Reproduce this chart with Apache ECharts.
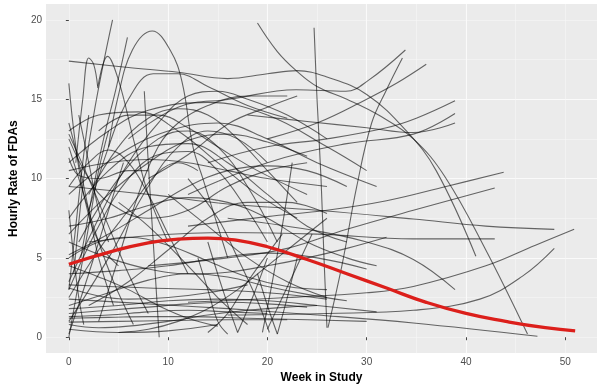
<!DOCTYPE html>
<html>
<head>
<meta charset="utf-8">
<script src="https://cdn.jsdelivr.net/npm/echarts@6/dist/echarts.min.js"></script>
<style>
  html, body { margin: 0; padding: 0; background: #fff; }
  #chart { width: 597px; height: 389px; }
</style>
</head>
<body>
<div id="chart"></div>
<script>
// week ticks / rate ticks
var weekTicks = [0, 10, 20, 30, 40, 50];
var rateTicks = [0, 5, 10, 15, 20];

// population fit (red curve)
var fitWeeks = [0, 4, 8, 11, 14, 17, 20, 24, 28, 32, 36, 40, 44, 48, 51];
var fitRate = [4.6, 5.35, 5.95, 6.18, 6.25, 6.1, 5.7, 4.9, 4.0, 3.1, 2.2, 1.5, 1.0, 0.6, 0.4];

// individual subject curves, [week, hourly rate]
var subjects = [
  [[0.5, 4], [1.5, 10], [2.5, 14], [3.4, 17], [4.4, 20]],
  [[1.2, 5], [2.5, 9.5], [3.5, 12.5], [4.8, 15.8], [5.9, 18.9]],
  [[0, 16], [0.6, 12.5], [1.5, 9], [3, 6], [5, 4.5]],
  [[0.7, 11], [1.4, 15], [2, 17.6], [2.5, 17.2], [2.9, 15.8]],
  [[2.9, 15.7], [3.9, 17.7], [5, 16.2], [6.5, 12.5], [8, 9], [10, 6]],
  [[0, 17.4], [6, 17], [11, 16.7], [16, 16.3], [20, 16.6], [23, 16.8], [26, 16.4], [30, 15.3], [34, 13], [37, 10.5], [41, 5.1]],
  [[4, 12], [4.9, 15], [6.4, 18.1], [8.4, 19.3], [10.2, 18.1], [11.4, 16.1], [12.5, 12], [13.5, 10], [15, 7], [16, 5]],
  [[2, 8], [4, 12], [6, 15], [8.5, 16.6], [11, 16.6], [14, 15.8], [18, 14.6], [22, 13.8]],
  [[7.6, 15.5], [8, 11], [8.4, 7], [8.8, 3], [9.1, 0]],
  [[19, 19.8], [21, 18], [22.9, 16.8], [25, 15.8], [28, 15], [31.2, 14], [34.7, 12.5], [37.9, 10.1], [42, 5.5], [46.2, 0.2]],
  [[6, 12.5], [11, 14.5], [16.2, 15], [22.9, 15.6], [27.9, 15.5], [30.2, 16.2], [33.9, 18.1]],
  [[26.1, 0.6], [27.5, 4.5], [29, 9.5], [30.5, 13.5], [32, 15.6], [33.6, 17.6]],
  [[20, 12.5], [25, 13.5], [30, 15], [33, 16], [36, 17.2]],
  [[8, 10], [12, 11.5], [16.2, 13.5], [20, 14.5], [23, 15.2]],
  [[24.7, 19.5], [25, 15], [25.4, 10], [25.7, 5], [26, 0.6]],
  [[14, 11], [20, 12], [26, 12.5], [32, 13.2], [35, 13.8], [38.9, 14.9]],
  [[12, 9], [20, 11], [28, 12.2], [34.7, 12.8], [38.9, 14.1]],
  [[18, 14], [24, 13.6], [30, 13.2], [34.7, 12.9], [38.9, 13.5]],
  [[0, 11], [4, 13], [8, 14.3], [14, 14.8], [20, 14], [26, 12], [30, 10.5]],
  [[0, 9], [5, 11.5], [10, 13], [15, 13.5], [20, 12.5], [25, 11], [31, 9.5]],
  [[0, 13], [3, 14], [7, 14.2], [11, 13], [15, 11], [19, 9], [23, 7.5]],
  [[1, 6], [5, 10], [9, 12.5], [12, 13], [15, 12], [18, 9.5], [21, 6]],
  [[0, 7.5], [4, 10.5], [8, 12], [12, 12.2], [16, 11], [20, 9], [24, 7], [28, 6]],
  [[0, 12.5], [2, 10], [4, 8.5], [8, 7.5], [12, 8], [16, 9.5], [20, 10.5], [24, 11]],
  [[0, 3], [3, 7], [6, 10], [9, 11.5], [12, 11.7], [15, 10.5], [18, 8], [20, 6]],
  [[0, 10.5], [4, 11], [8, 11.2], [12, 11], [16, 10.5], [20, 10], [26, 9.5]],
  [[0, 1], [4, 5], [8, 9.5], [11, 12], [14, 13], [17, 12.5], [20, 11]],
  [[0, 2.5], [3, 5.5], [6, 8], [9, 10.4], [11, 11], [13, 10.5]],
  [[0, 9.5], [2, 11], [4, 11.8], [6, 11], [8, 9], [10, 6.5], [12, 4]],
  [[0, 12.8], [2, 10], [4, 7], [6, 4], [8, 1.5]],
  [[0, 13.5], [1, 11], [2, 8], [3, 5], [4.5, 2]],
  [[0, 12], [1.5, 9], [3, 6], [4.5, 3.5], [6.5, 0.8]],
  [[1, 14], [2, 11], [3, 8], [4, 6]],
  [[0, 0.2], [2, 4], [4, 8], [5.5, 11]],
  [[0, 3.5], [3, 7.5], [6, 11], [9, 13.5], [12, 15.2], [15, 15.5], [18, 15], [22, 14], [26, 12.5]],
  [[3, 1], [5, 5], [7, 9], [9, 12], [11, 13.5], [14, 14.6], [18, 15.2], [22, 15.2]],
  [[0, 5.2], [4, 6.5], [8, 8], [12, 9.5], [16, 10.5], [20, 10.8], [24, 10.5], [28, 9.5]],
  [[0, 9.5], [8, 9], [16, 8.4], [25, 8], [34.7, 7.45], [42, 7], [48.9, 6.8]],
  [[2, 6], [8, 6.4], [16, 6.6], [25, 6.5], [34.7, 6.2], [42.9, 6.2]],
  [[8, 4.5], [16, 5], [22, 5.6], [28, 6.8], [34.7, 8], [42.9, 9.4]],
  [[12, 7], [20, 7.6], [26, 8], [32, 8.6], [38, 9.5], [43.8, 10.4]],
  [[12, 2.2], [22, 2.5], [30, 2.8], [34.7, 3.2], [42, 4.5], [47, 5.8], [50.9, 6.8]],
  [[16, 1.4], [26, 1.5], [34.7, 1.7], [41.4, 2.4], [45.7, 3.85], [48.9, 5.6]],
  [[16, 7.5], [24, 6.8], [30, 6], [34.7, 4.9], [38.9, 3]],
  [[0, 2.4], [8, 2.1], [16, 1.8], [25, 1.4], [34.7, 0.9], [47.2, 0.06]],
  [[0, 7], [4, 7.5], [8, 8.3], [12, 8.8], [16, 8.5], [20, 7.5], [24, 6], [28, 5], [31, 4.5]],
  [[0, 4], [5, 4.2], [10, 4.5], [15, 5], [20, 5.3], [25, 5], [30, 4.3]],
  [[0, 6], [4, 5], [8, 4.3], [12, 4], [16, 4.1], [20, 4.5], [24, 5], [28, 5.6], [32, 6.3]],
  [[2, 2], [6, 3.5], [10, 5.5], [14, 7.5], [18, 8.5], [22, 8.5], [26, 7.8]],
  [[10, 9], [14, 7], [18, 5], [22, 3.5], [26, 2.5]],
  [[5, 8.5], [8, 7], [12, 4.5], [15, 2.5], [18, 0.8]],
  [[12, 10], [15, 7.5], [17, 5], [19, 2.3], [20.2, 0.3]],
  [[20, 0.5], [21.5, 2.5], [23, 4.5], [24.5, 6.5]],
  [[14, 0.3], [16, 1.5], [18, 3.5], [21.5, 6.5]],
  [[0, 3.3], [4, 3.2], [8, 3.1], [14, 3], [20, 2.8], [26, 2.4]],
  [[0, 1.2], [4, 1.25], [8, 1.3], [12, 1.3], [18, 1.2], [24, 1.1], [30, 1]],
  [[0, 0.95], [5, 1.0], [10, 1.05], [16, 1.1], [22, 1.1]],
  [[0, 1.5], [4, 1.7], [8, 1.9], [12, 2.1], [16, 2.2], [20, 2.1], [24, 1.9]],
  [[0, 1.8], [5, 2], [10, 2.3], [15, 2.4], [20, 2.3], [25, 2], [31, 1.6]],
  [[0, 0.8], [3, 0.6], [6, 0.7], [10, 1], [14, 1.4], [18, 1.7], [22, 1.9], [25, 2]],
  [[0, 0.5], [5, 0.3], [10, 0.4], [15, 0.8]],
  [[0, 4.5], [3, 3.8], [6, 3], [9, 2], [12, 1.2], [15, 0.7]],
  [[0, 2], [4, 2.8], [8, 3.6], [12, 4], [16, 3.8], [20, 3.2], [24, 2.7], [28, 2.3]],
  [[0, 5], [3, 6], [6, 6.3], [10, 5.8], [14, 4.8], [18, 3.8], [22, 3.2], [26, 3]],
  [[5, 0.3], [8, 0.5], [11, 1], [14, 1.8], [17, 3], [20, 4.5], [23, 6], [26, 7.5]],
  [[14, 6], [15.5, 3], [17, 0.3]],
  [[17, 0.3], [18.5, 2.5], [20, 5]],
  [[19, 4], [20, 2], [21, 0.2]],
  [[21, 0.2], [22, 2.5], [23, 5]],
  [[13, 5], [14, 3], [15, 1], [16, 0.2]],
  [[0, 8], [0.5, 5], [1, 2.5], [1.5, 0.8]],
  [[0, 3], [0.7, 7], [1.4, 11], [2, 14]],
  [[0, 0], [1, 3.5], [2, 7], [3, 10.5], [4, 13]],
  [[0, 11.3], [1, 10.2], [3, 10], [6, 10.5], [8, 10.5]],
  [[19.5, 0.3], [20.5, 3.5], [21.5, 7], [22.5, 11]],
  [[2, 9], [5, 12], [8, 13.8], [11, 14.4], [14, 14], [17, 12.5], [20, 10.5], [23, 8.5]],
  [[0, 6.5], [4, 9], [8, 11], [12, 12.4], [16, 12.8], [20, 12.3], [24, 11.4]],
  [[3, 13], [6, 14], [9, 14], [12, 13.2], [15, 12], [19, 10.5], [24, 9]],
  [[0, 1.3], [4, 1.4], [8, 1.6], [12, 1.7], [16, 1.6], [20, 1.5]],
  [[0, 3.1], [3, 2.6], [6, 2.4], [10, 2.5], [14, 2.8], [18, 3.3]]
];

var myChart = echarts.init(document.getElementById("chart"));

var series = subjects.map(function (pts) {
  return {
    type: "line",
    data: pts,
    smooth: 0.4,
    showSymbol: false,
    silent: true,
    lineStyle: { color: "rgba(0,0,0,0.58)", width: 1.1 },
    z: 2,
  };
});
series.push({
  type: "line",
  data: fitWeeks.map(function (w, i) { return [w, fitRate[i]]; }),
  smooth: 0.5,
  showSymbol: false,
  silent: true,
  lineStyle: { color: "#DC1F1B", width: 3.3 },
  z: 5,
});

var font = "'Liberation Sans', Arial, sans-serif";

var option = {
  animation: false,
  backgroundColor: "#fff",
  grid: {
    left: 42, right: 0, top: 4, bottom: 31,
    show: true, backgroundColor: "#EBEBEB", borderWidth: 0,
  },
  xAxis: [
    {
      type: "value", min: -2.3, max: 53.2,
      minInterval: 10, maxInterval: 10,
      name: "Week in Study", nameLocation: "middle", nameGap: 16,
      nameTextStyle: { fontFamily: font, fontSize: 12, fontWeight: "bold", color: "#000" },
      axisLine: { show: false },
      axisTick: { show: true, length: 3, customValues: weekTicks, lineStyle: { color: "#444" } },
      axisLabel: { customValues: weekTicks, margin: 4, fontFamily: font, fontSize: 10, color: "#4D4D4D" },
      splitLine: { show: true, showMinLine: false, showMaxLine: false, lineStyle: { color: "#fff", width: 1.1 } },
    },
    {
      type: "value", min: -2.3, max: 53.2,
      minInterval: 5, maxInterval: 5,
      axisLine: { show: false }, axisTick: { show: false }, axisLabel: { show: false },
      splitLine: { show: true, showMinLine: false, showMaxLine: false, lineStyle: { color: "#F7F7F7", width: 0.6 } },
    },
  ],
  yAxis: [
    {
      type: "value", min: -1, max: 21,
      minInterval: 5, maxInterval: 5,
      name: "Hourly Rate of FDAs", nameLocation: "middle", nameGap: 18,
      nameTextStyle: { fontFamily: font, fontSize: 12, fontWeight: "bold", color: "#000" },
      axisLine: { show: false },
      axisTick: { show: true, length: 3, customValues: rateTicks, lineStyle: { color: "#444" } },
      axisLabel: { customValues: rateTicks, margin: 4, fontFamily: font, fontSize: 10, color: "#4D4D4D" },
      splitLine: { show: true, showMinLine: false, showMaxLine: false, lineStyle: { color: "#fff", width: 1.1 } },
    },
    {
      type: "value", min: -1, max: 21,
      minInterval: 2.5, maxInterval: 2.5,
      axisLine: { show: false }, axisTick: { show: false }, axisLabel: { show: false },
      splitLine: { show: true, showMinLine: false, showMaxLine: false, lineStyle: { color: "#F7F7F7", width: 0.6 } },
    },
  ],
  series: series,
};

myChart.setOption(option);
</script>
</body>
</html>
